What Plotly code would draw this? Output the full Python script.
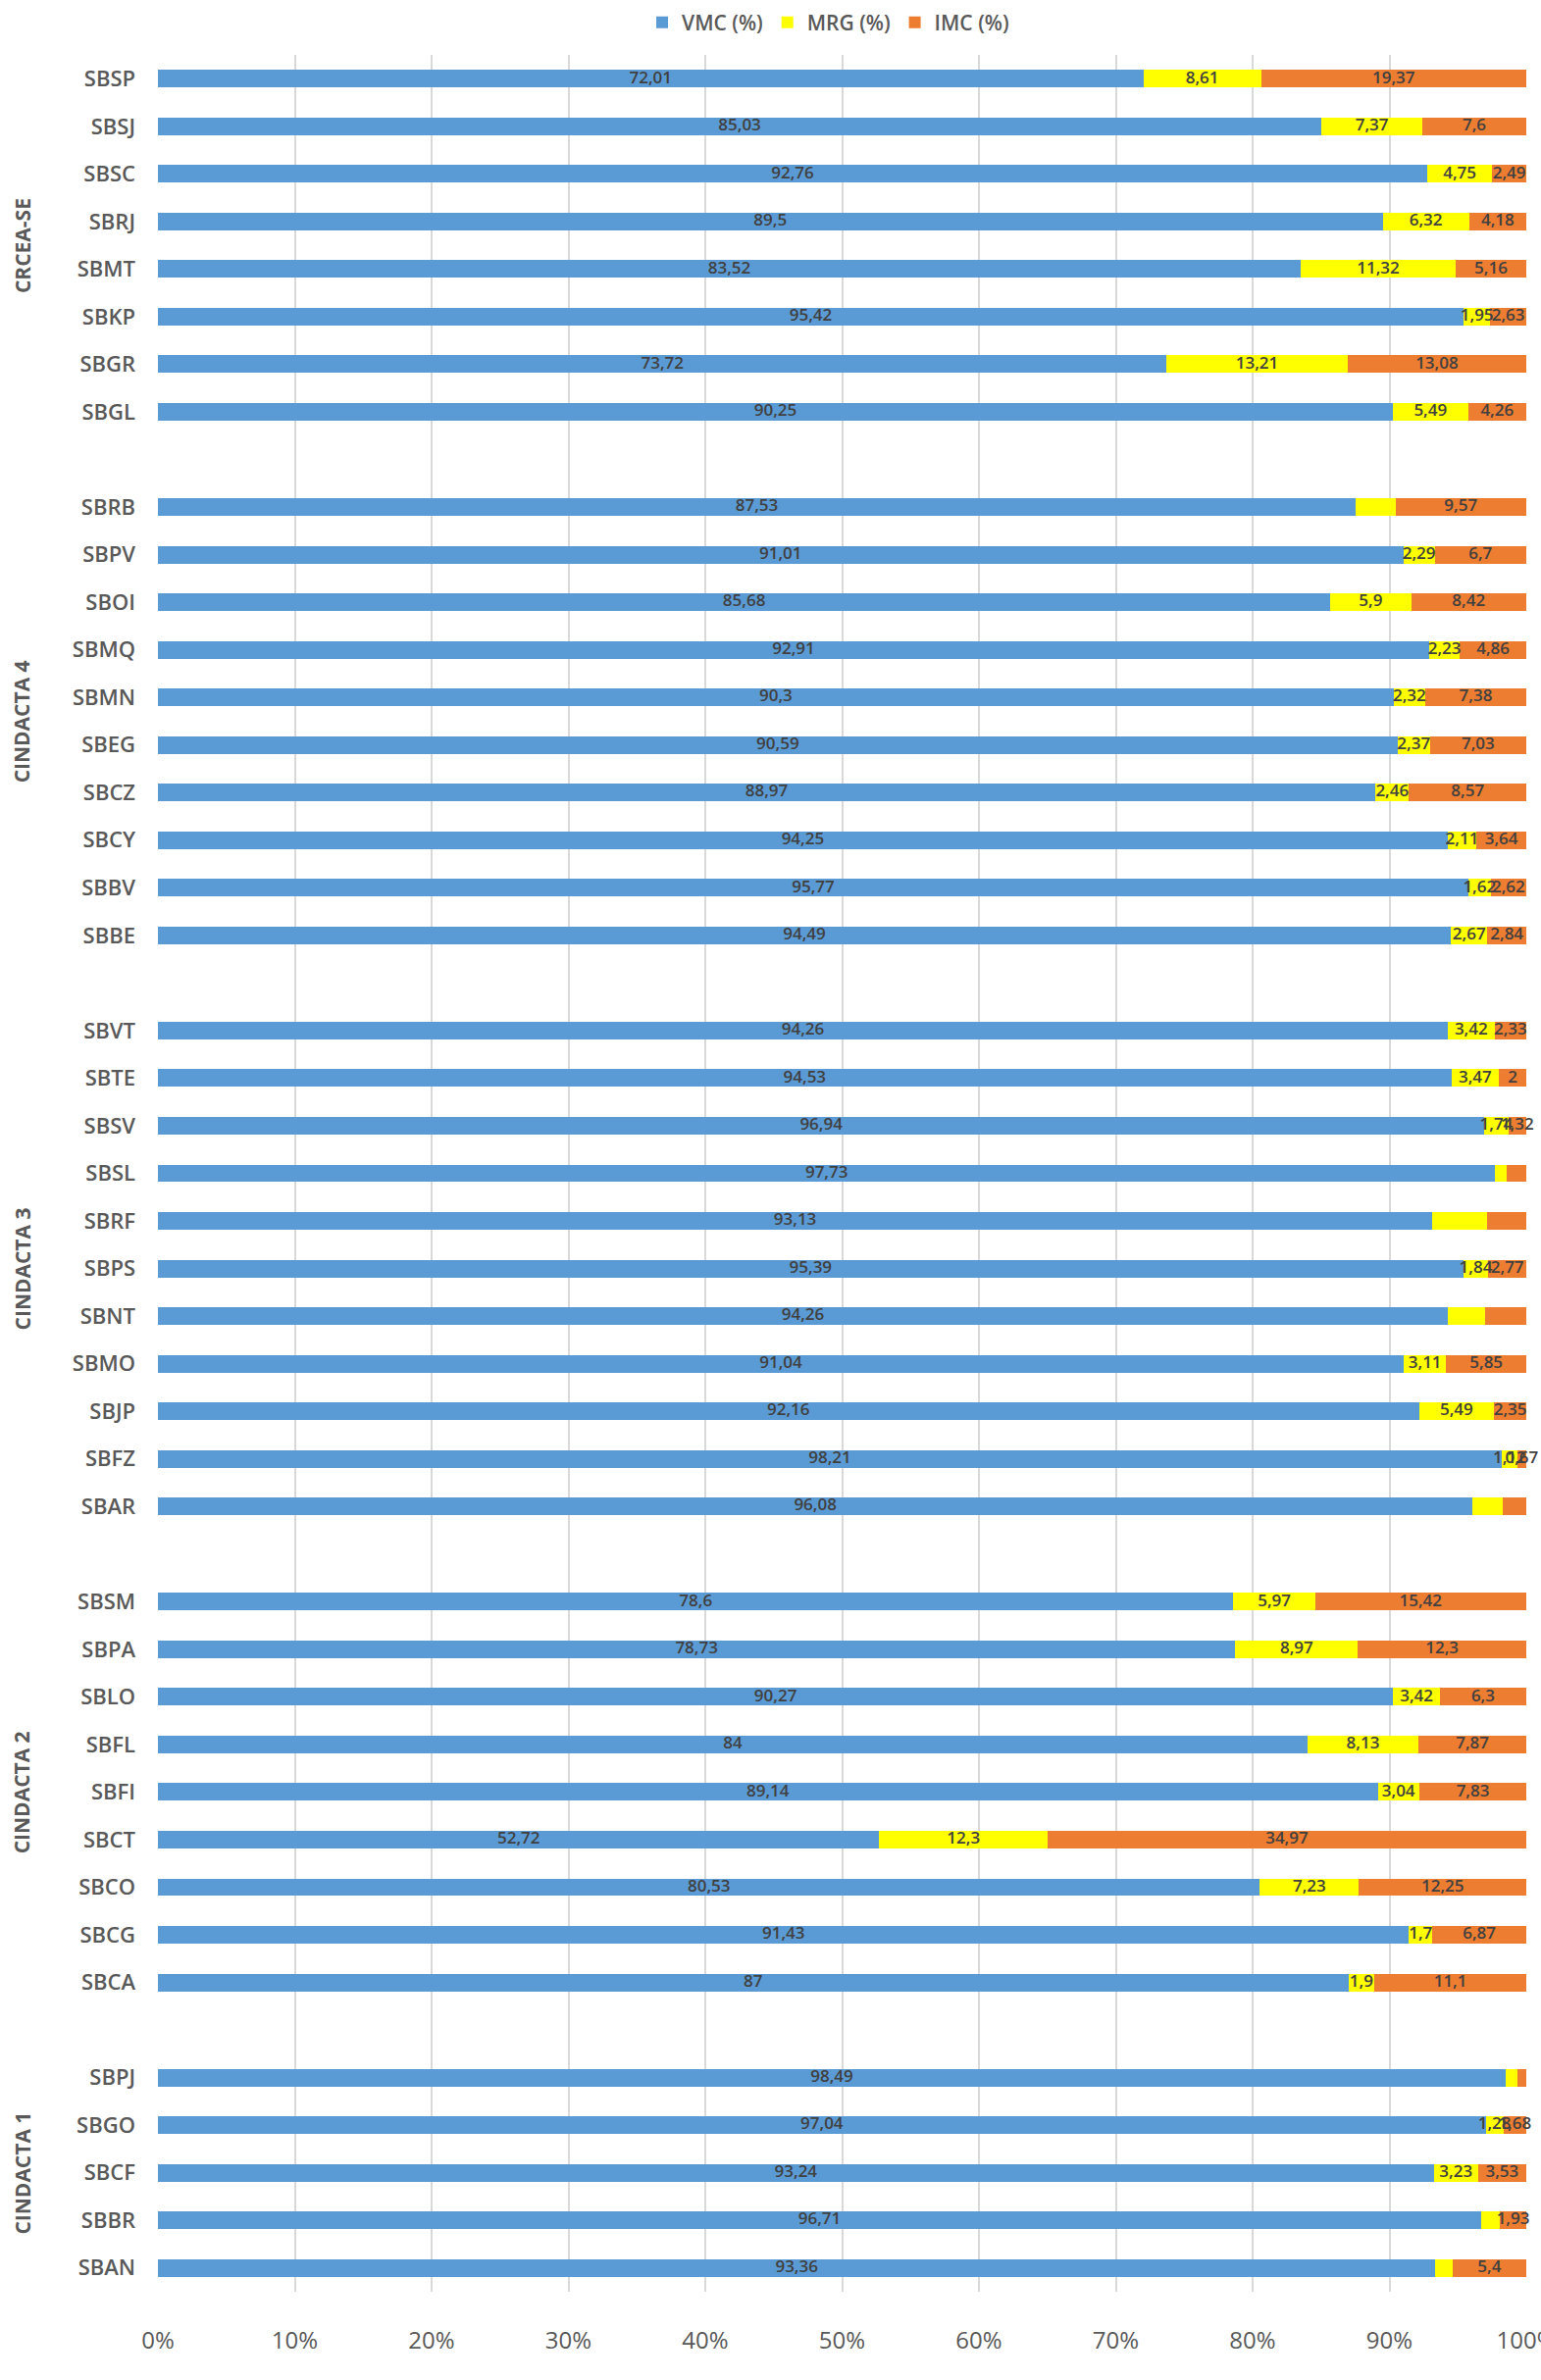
import plotly.graph_objects as go

# ---------------- data ----------------
groups = ["CRCEA-SE", "CINDACTA 4", "CINDACTA 3", "CINDACTA 2", "CINDACTA 1"]

airports = [
    ["SBSP", "SBSJ", "SBSC", "SBRJ", "SBMT", "SBKP", "SBGR", "SBGL"],
    ["SBRB", "SBPV", "SBOI", "SBMQ", "SBMN", "SBEG", "SBCZ", "SBCY", "SBBV", "SBBE"],
    ["SBVT", "SBTE", "SBSV", "SBSL", "SBRF", "SBPS", "SBNT", "SBMO", "SBJP", "SBFZ", "SBAR"],
    ["SBSM", "SBPA", "SBLO", "SBFL", "SBFI", "SBCT", "SBCO", "SBCG", "SBCA"],
    ["SBPJ", "SBGO", "SBCF", "SBBR", "SBAN"],
]

vmc = [
    [72.01, 85.03, 92.76, 89.5, 83.52, 95.42, 73.72, 90.25],
    [87.53, 91.01, 85.68, 92.91, 90.3, 90.59, 88.97, 94.25, 95.77, 94.49],
    [94.26, 94.53, 96.94, 97.73, 93.13, 95.39, 94.26, 91.04, 92.16, 98.21, 96.08],
    [78.6, 78.73, 90.27, 84, 89.14, 52.72, 80.53, 91.43, 87],
    [98.49, 97.04, 93.24, 96.71, 93.36],
]
mrg = [
    [8.61, 7.37, 4.75, 6.32, 11.32, 1.95, 13.21, 5.49],
    [2.9, 2.29, 5.9, 2.23, 2.32, 2.37, 2.46, 2.11, 1.62, 2.67],
    [3.42, 3.47, 1.74, 0.84, 4.0, 1.84, 2.76, 3.11, 5.49, 1.12, 2.22],
    [5.97, 8.97, 3.42, 8.13, 3.04, 12.3, 7.23, 1.7, 1.9],
    [0.84, 1.28, 3.23, 1.36, 1.24],
]
imc = [
    [19.37, 7.6, 2.49, 4.18, 5.16, 2.63, 13.08, 4.26],
    [9.57, 6.7, 8.42, 4.86, 7.38, 7.03, 8.57, 3.64, 2.62, 2.84],
    [2.33, 2, 1.32, 1.43, 2.87, 2.77, 2.98, 5.85, 2.35, 0.67, 1.70],
    [15.42, 12.3, 6.3, 7.87, 7.83, 34.97, 12.25, 6.87, 11.1],
    [0.67, 1.68, 3.53, 1.93, 5.4],
]

# airports whose data label is not shown in the reference
mrg_label_hidden = ["SBRB", "SBSL", "SBRF", "SBNT", "SBAR", "SBPJ", "SBBR", "SBAN"]
imc_label_hidden = ["SBSL", "SBRF", "SBNT", "SBAR", "SBPJ"]

series_names = ["VMC (%)", "MRG (%)", "IMC (%)"]
series_colors = ["#5B9BD5", "#FFFF00", "#ED7D31"]

x_ticks = [0, 10, 20, 30, 40, 50, 60, 70, 80, 90, 100]
x_ticktext = ["0%", "10%", "20%", "30%", "40%", "50%", "60%", "70%", "80%", "90%", "100%"]

# ---------------- rows (one blank row between groups) ----------------
ypos, names, v_all, m_all, i_all = [], [], [], [], []
group_centers = []
row = 0
for gi, g in enumerate(groups):
    start = row
    for k, a in enumerate(airports[gi]):
        ypos.append(row)
        names.append(a)
        v_all.append(vmc[gi][k])
        m_all.append(mrg[gi][k])
        i_all.append(imc[gi][k])
        row += 1
    group_centers.append((start + row - 1) / 2)
    row += 1  # gap row
last_row = max(ypos)


def fmt(v):
    return f"{v:g}".replace(".", ",")


series_vals = [v_all, m_all, i_all]
hidden = [[], mrg_label_hidden, imc_label_hidden]

FONT = "Open Sans"
fig = go.Figure()
for vals, name, col in zip(series_vals, series_names, series_colors):
    fig.add_trace(go.Bar(
        x=vals, y=ypos, orientation="h", name=name,
        marker=dict(color=col, line=dict(width=0)),
        width=0.37, hoverinfo="skip",
    ))

# data labels, centred in each segment
base = [0.0] * len(ypos)
for vals, hid in zip(series_vals, hidden):
    mids = [b + v / 2 for b, v in zip(base, vals)]
    txt = ["" if n in hid else fmt(v) for n, v in zip(names, vals)]
    fig.add_trace(go.Scatter(
        x=mids, y=ypos, mode="text", text=txt, textposition="middle center",
        textfont=dict(family=FONT, size=17, color="#404040", weight=600),
        showlegend=False, hoverinfo="skip", cliponaxis=False,
    ))
    base = [b + v for b, v in zip(base, vals)]

for g, c in zip(groups, group_centers):
    fig.add_annotation(
        x=-0.099, xref="paper", xanchor="center", y=c, yref="y", yanchor="middle",
        text=f"<b>{g}</b>", textangle=-90, showarrow=False,
        font=dict(family=FONT, size=21, color="#595959"),
    )

fig.update_layout(
    width=1571, height=2427,
    barmode="stack",
    paper_bgcolor="white", plot_bgcolor="white",
    margin=dict(l=161, r=15, t=56, b=90, pad=0, autoexpand=False),
    legend=dict(
        orientation="h", x=0.49, xanchor="center",
        yref="container", y=1 - 23 / 2427, yanchor="middle",
        font=dict(family=FONT, size=21, color="#595959", weight=600),
        itemclick=False, traceorder="normal",
    ),
    showlegend=True,
)
fig.update_xaxes(
    range=[0, 100], tickvals=x_ticks, ticktext=x_ticktext, automargin=False,
    showgrid=True, gridcolor="#D9D9D9", gridwidth=1.5,
    zeroline=False, showline=False,
    tickfont=dict(family=FONT, size=24, color="#595959"),
    ticks="", ticklabelstandoff=33, ticklabeloverflow="allow",
)
fig.update_yaxes(
    range=[last_row + 0.5, -0.5], tickvals=ypos, ticktext=names, automargin=False,
    showgrid=False, zeroline=False, showline=False,
    tickfont=dict(family=FONT, size=22, color="#595959", weight=600),
    ticks="", ticklabelstandoff=22,
)

fig.write_html("out.html")
